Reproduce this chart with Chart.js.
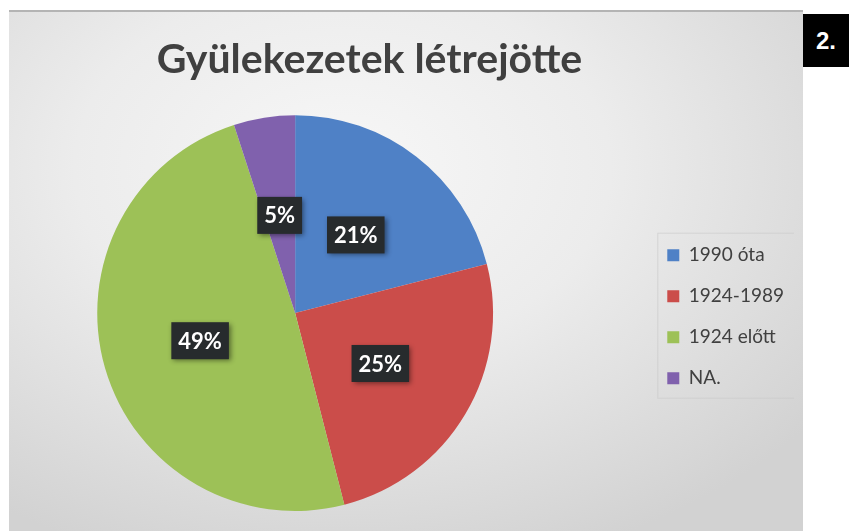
<!DOCTYPE html>
<html>
<head>
<meta charset="utf-8">
<script src="https://cdn.jsdelivr.net/npm/chart.js@4/dist/chart.umd.min.js"></script>
<style>
    html, body { margin: 0; padding: 0; background: #fff; }
    body { width: 855px; height: 531px; position: relative; overflow: hidden; }
    #panel {
        position: absolute; left: 9px; top: 10px; width: 794px; height: 521px;
        overflow: hidden;
        border-top: 2px solid #b4b4b4;
        box-sizing: border-box;
        background: radial-gradient(ellipse 75% 80% at 42% 30%, #f7f7f7 0%, #ececec 45%, #d2d2d2 100%);
    }
    #chartBox { position: absolute; left: -73px; top: -2px; width: 858px; height: 521px; }
    #badge {
        position: absolute; left: 803px; top: 14px; width: 46px; height: 53px;
        background: #000; color: #fff;
        font: bold 24px "Liberation Sans", Arial, sans-serif;
        display: flex; align-items: center; justify-content: center;
    }
</style>
</head>
<body>
<div id="panel">
    <div id="chartBox"><canvas id="pieChart"></canvas></div>
</div>
<div id="badge">2.</div>

<script>
// adatok
const categories = ['1990 óta', '1924-1989', '1924 előtt', 'NA.'];
const shares = [21, 25, 49, 5];
const sliceColors = ['#4F81C6', '#CB4D4A', '#9DC157', '#8061AD'];
const chartTitle = 'Gyülekezetek létrejötte';

// címkék sötét dobozban a szeletek közepén
const boxLabels = {
    id: 'boxLabels',
    afterDatasetsDraw(chart) {
        const ctx = chart.ctx;
        const meta = chart.getDatasetMeta(0);
        ctx.save();
        ctx.font = 'bold 22px Lato, "Open Sans", sans-serif';
        ctx.textAlign = 'center';
        ctx.textBaseline = 'middle';
        meta.data.forEach((arc, i) => {
            const pos = arc.tooltipPosition();
            const text = shares[i] + '%';
            const w = ctx.measureText(text).width + 14;
            const h = 37;
            ctx.shadowColor = 'rgba(0, 0, 0, 0.45)';
            ctx.shadowBlur = 5;
            ctx.shadowOffsetX = 2;
            ctx.shadowOffsetY = 2;
            ctx.fillStyle = '#272b2d';
            ctx.fillRect(pos.x - w / 2, pos.y - h / 2, w, h);
            ctx.shadowColor = 'transparent';
            ctx.fillStyle = '#ffffff';
            ctx.fillText(text, pos.x, pos.y + 1);
        });
        ctx.restore();
    }
};

// halvány keret a jelmagyarázat körül
const legendFrame = {
    id: 'legendFrame',
    afterDraw(chart) {
        const lg = chart.legend;
        if (!lg || !lg.legendHitBoxes.length) return;
        const boxes = lg.legendHitBoxes;
        const ctx = chart.ctx;
        const x0 = boxes[0].left - 10;
        const y0 = boxes[0].top - 13;
        const last = boxes[boxes.length - 1];
        ctx.save();
        ctx.strokeStyle = 'rgba(200, 200, 200, 0.6)';
        ctx.lineWidth = 1;
        ctx.strokeRect(x0 + 0.5, y0 + 0.5, 137, last.top + last.height + 10 - y0);
        ctx.restore();
    }
};

const ctx = document.getElementById('pieChart').getContext('2d');
new Chart(ctx, {
    type: 'pie',
    data: {
        labels: categories,
        datasets: [{
            data: shares,
            backgroundColor: sliceColors,
            borderWidth: 0
        }]
    },
    options: {
        responsive: true,
        maintainAspectRatio: false,
        animation: false,
        layout: {
            padding: { top: 14, bottom: 20, left: 9, right: 0 }
        },
        plugins: {
            title: {
                display: true,
                text: chartTitle,
                color: '#404040',
                font: { family: 'Lato, "Open Sans", sans-serif', size: 41, weight: 'bold' },
                padding: { top: 11, bottom: 31 }
            },
            legend: {
                position: 'right',
                align: 'center',
                title: {
                    display: true,
                    text: '',
                    padding: { top: 42, bottom: 42 }
                },
                labels: {
                    boxWidth: 12,
                    boxHeight: 12,
                    padding: 22,
                    color: '#404040',
                    font: { family: 'Lato, "Open Sans", sans-serif', size: 19 }
                }
            },
            tooltip: { enabled: false }
        }
    },
    plugins: [boxLabels, legendFrame]
});
</script>
</body>
</html>
